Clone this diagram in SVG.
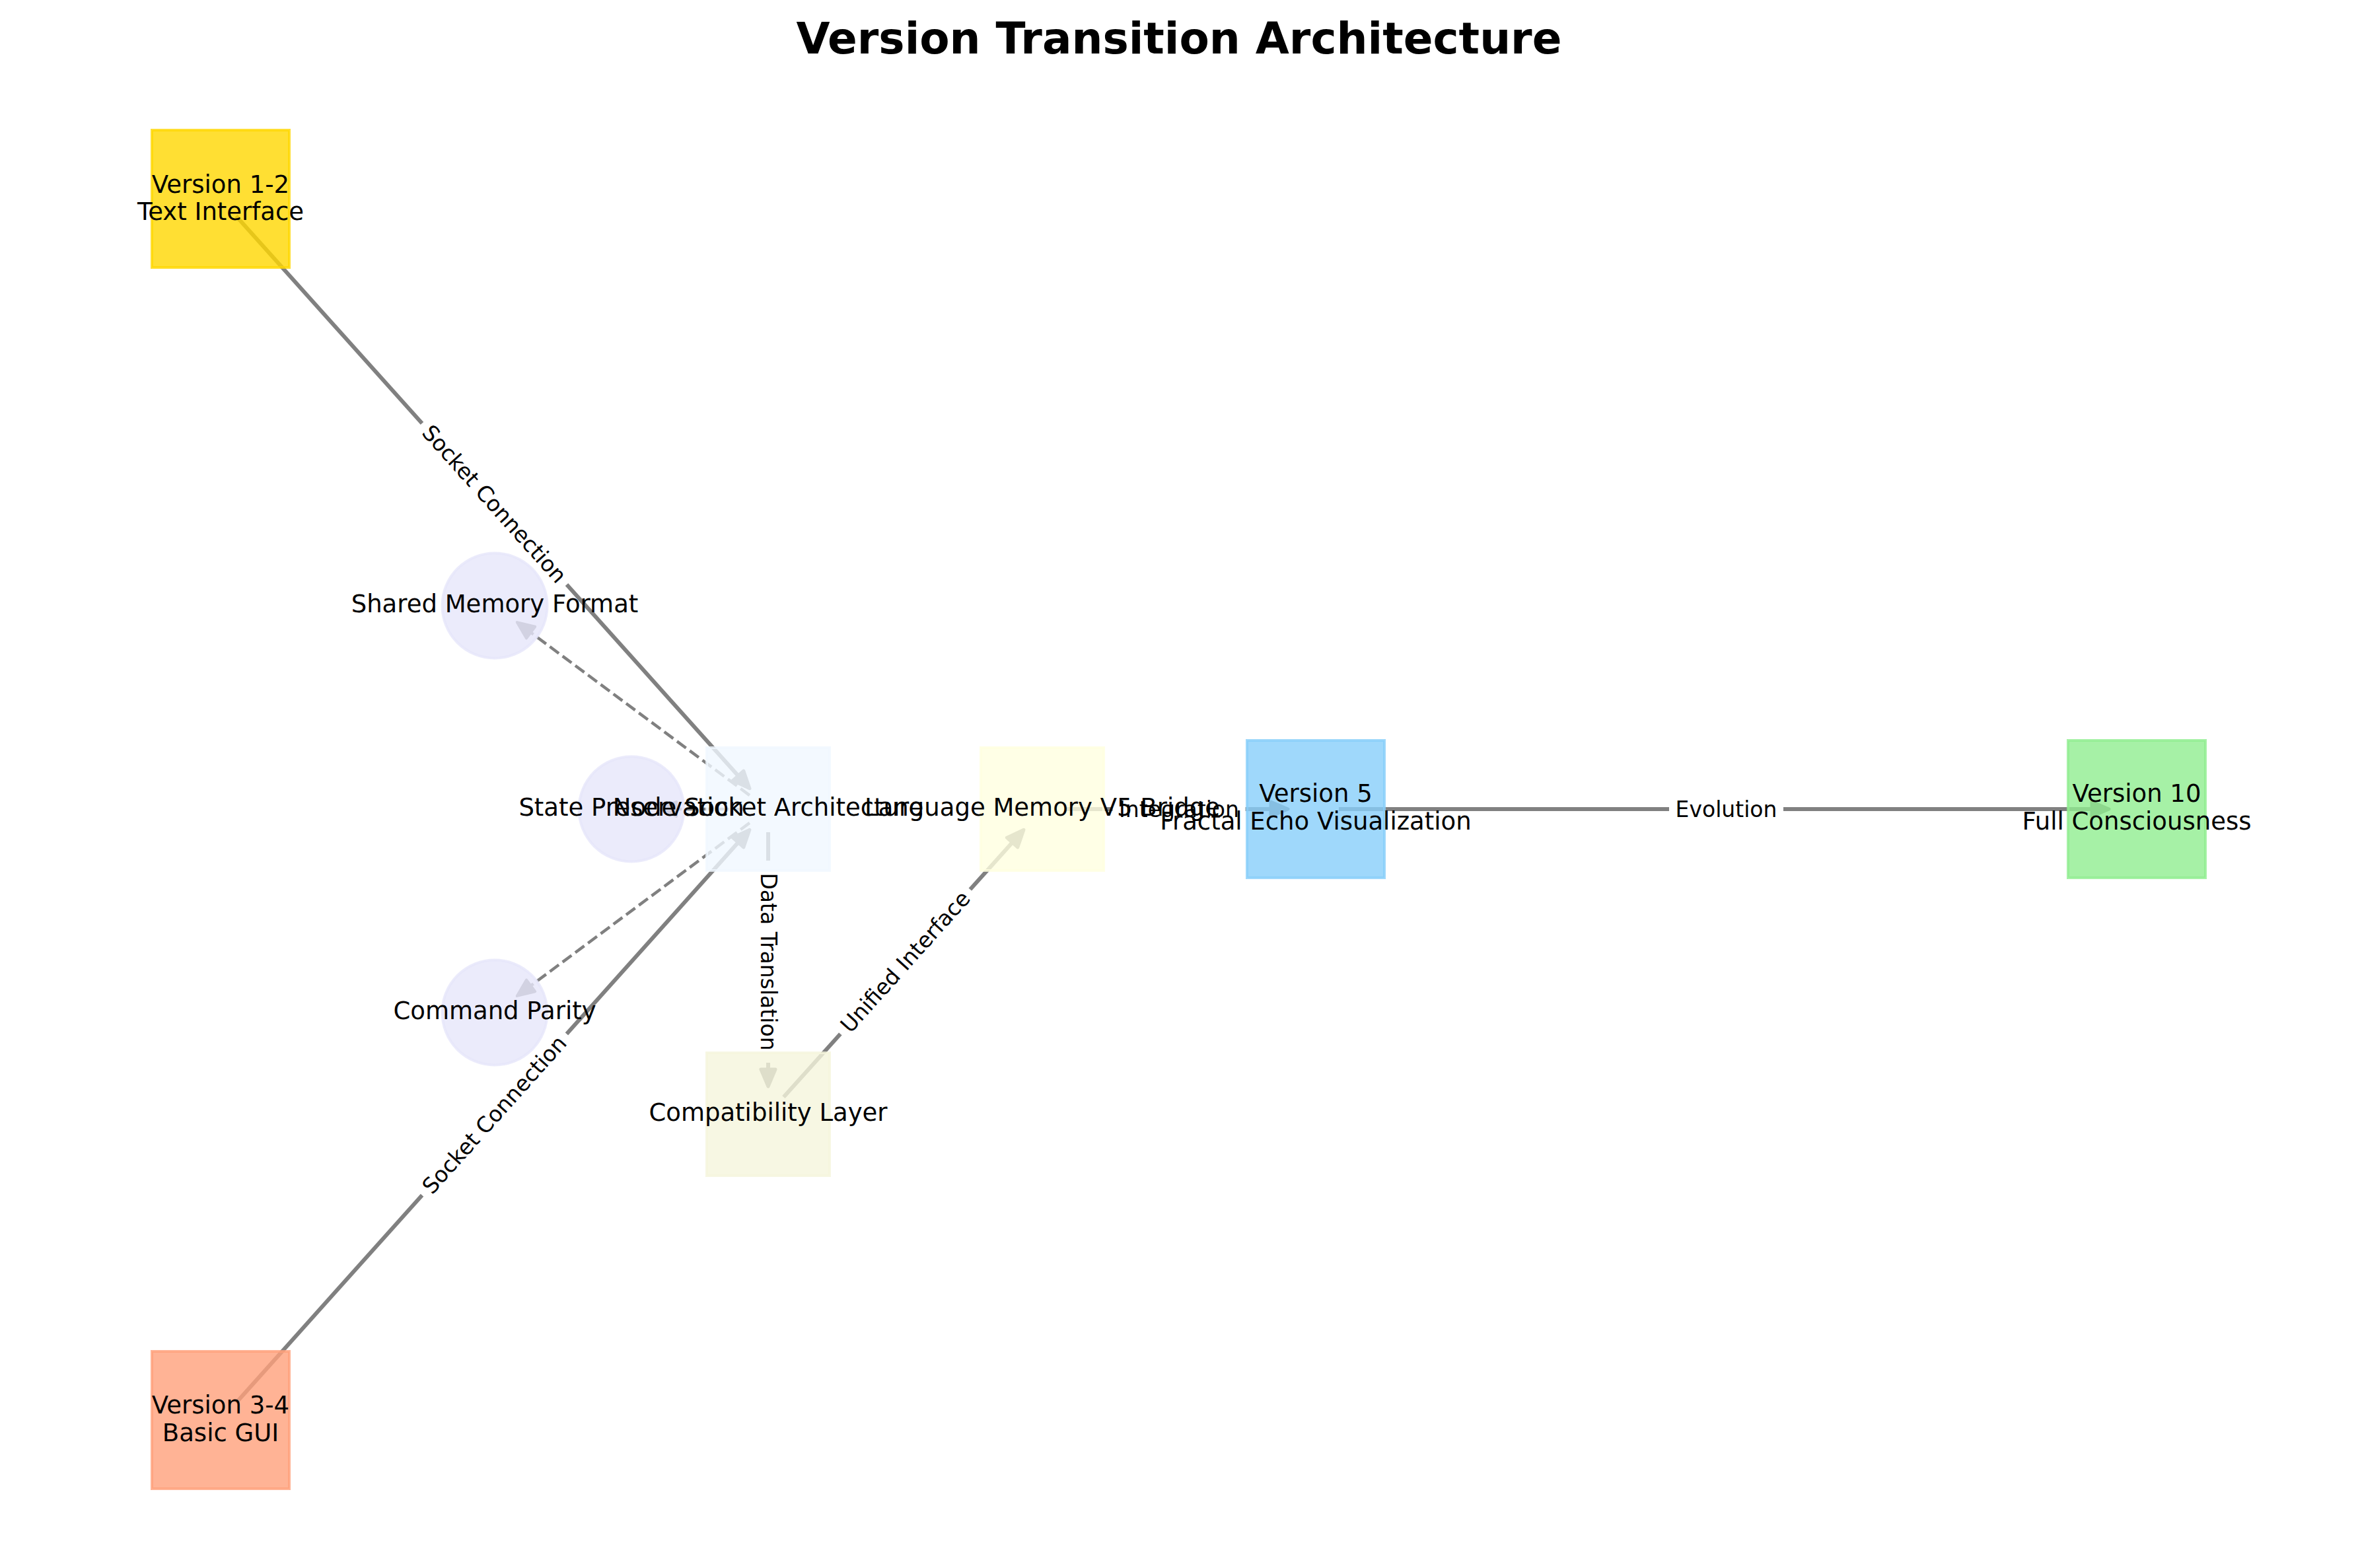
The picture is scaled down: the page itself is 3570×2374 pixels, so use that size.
<svg xmlns="http://www.w3.org/2000/svg" width="3570" height="2374" viewBox="0 0 3570 2374">
<style>
  text { font-family: "DejaVu Sans", "Liberation Sans", sans-serif; fill: #000; }
  .title { font-size: 66px; font-weight: bold; text-anchor: middle; }
  .nl { font-size: 37px; text-anchor: middle; }
  .el { font-size: 33px; text-anchor: middle; }
  .solid { stroke: #808080; stroke-width: 6; fill: none; marker-end: url(#ah); }
  .dash { stroke: #808080; stroke-width: 4.5; fill: none; stroke-dasharray: 17 7; marker-end: url(#ahd); }
  .lblbox { fill: #ffffff; stroke: #ffffff; }
  .rect { fill-opacity: 0.8; stroke-opacity: 0.8; stroke-width: 4; }
  .circ { fill: #E6E6FA; stroke: #E6E6FA; fill-opacity: 0.8; stroke-opacity: 0.8; stroke-width: 4; }
</style>
<defs>
  <marker id="ah" markerUnits="userSpaceOnUse" orient="auto" refX="0" refY="0" markerWidth="40" markerHeight="40" overflow="visible">
    <path d="M0,-11 L26,0 L0,11 Z" fill="#808080" stroke="#808080" stroke-width="5" stroke-linejoin="round"/>
  </marker>
  <marker id="ahd" markerUnits="userSpaceOnUse" orient="auto" refX="0" refY="0" markerWidth="40" markerHeight="40" overflow="visible">
    <path d="M0,-11 L26,0 L0,11 Z" fill="#808080" stroke="#808080" stroke-width="4" stroke-linejoin="round"/>
  </marker>
</defs>
<rect width="3570" height="2374" fill="#ffffff"/>
<text class="title" x="1785" y="81">Version Transition Architecture</text>

<g id="connectors">
  <line class="solid" x1="357.4" y1="327.1" x2="1117.6" y2="1174.4"/>
  <line class="solid" x1="357.4" y1="2123.9" x2="1117.6" y2="1275.6"/>
  <line class="dash" x1="1134.9" y1="1204.1" x2="803.6" y2="957.6"/>
  <line class="dash" x1="1128" y1="1225" x2="1024" y2="1225"/>
  <line class="dash" x1="1134.9" y1="1245.9" x2="803.6" y2="1492.4"/>
  <line class="solid" x1="1163" y1="1260" x2="1163" y2="1619"/>
  <line class="solid" x1="1186.4" y1="1661" x2="1532.6" y2="1275.6"/>
  <line class="solid" x1="1613" y1="1225" x2="1924" y2="1225"/>
  <line class="solid" x1="2027" y1="1225" x2="3167" y2="1225"/>

  <g id="edge-labels">
    <g transform="translate(748.5,763) rotate(48.1)">
      <rect class="lblbox" x="-163.5" y="-28.5" width="327" height="57" rx="9"/>
      <text class="el" x="0" y="11.5">Socket Connection</text>
    </g>
    <g transform="translate(748.5,1687.5) rotate(-48.1)">
      <rect class="lblbox" x="-163.5" y="-28.5" width="327" height="57" rx="9"/>
      <text class="el" x="0" y="11.5">Socket Connection</text>
    </g>
    <g transform="translate(1163,1456) rotate(90)">
      <rect class="lblbox" x="-152.5" y="-28.5" width="305" height="57" rx="9"/>
      <text class="el" x="0" y="11.5">Data Translation</text>
    </g>
    <g transform="translate(1370.5,1456) rotate(-48.1)">
      <rect class="lblbox" x="-146.5" y="-28.5" width="293" height="57" rx="9"/>
      <text class="el" x="0" y="11.5">Unified Interface</text>
    </g>
    <g transform="translate(1785,1225)">
      <rect class="lblbox" x="-100" y="-28.5" width="200" height="57" rx="9"/>
      <text class="el" x="0" y="11.5">Integration</text>
    </g>
    <g transform="translate(2613.5,1225)">
      <rect class="lblbox" x="-86" y="-28.5" width="172" height="57" rx="9"/>
      <text class="el" x="0" y="11.5">Evolution</text>
    </g>
  </g>
</g>

<g id="node-v12"><rect class="rect" x="230" y="197" width="208" height="208" fill="#FFD700" stroke="#FFD700"/></g>
<g id="node-v34"><rect class="rect" x="230" y="2046" width="208" height="208" fill="#FFA07A" stroke="#FFA07A"/></g>
<g id="node-smf"><circle class="circ" cx="749" cy="917" r="79.5"/></g>
<g id="node-sp"><circle class="circ" cx="956" cy="1225" r="79.5"/></g>
<g id="node-cp"><circle class="circ" cx="749" cy="1533" r="79.5"/></g>
<g id="node-nsa"><rect class="rect" x="1070" y="1132" width="186" height="186" fill="#F0F8FF" stroke="#F0F8FF"/></g>
<g id="node-cl"><rect class="rect" x="1070" y="1594" width="186" height="186" fill="#F5F5DC" stroke="#F5F5DC"/></g>
<g id="node-lmb"><rect class="rect" x="1485" y="1132" width="186" height="186" fill="#FFFFE0" stroke="#FFFFE0"/></g>
<g id="node-v5"><rect class="rect" x="1888" y="1121" width="208" height="208" fill="#87CEFA" stroke="#87CEFA"/></g>
<g id="node-v10"><rect class="rect" x="3131" y="1121" width="208" height="208" fill="#90EE90" stroke="#90EE90"/></g>

<g id="node-labels">
  <text id="label-v12" class="nl" x="334" y="292">Version 1-2</text>
  <text class="nl" x="334" y="333">Text Interface</text>
  <text id="label-v34" class="nl" x="334" y="2140">Version 3-4</text>
  <text class="nl" x="334" y="2182">Basic GUI</text>
  <text id="label-smf" class="nl" x="749" y="927">Shared Memory Format</text>
  <text id="label-sp" class="nl" x="956" y="1235">State Preservation</text>
  <text id="label-cp" class="nl" x="749" y="1543">Command Parity</text>
  <text id="label-nsa" class="nl" x="1163" y="1235">Node Socket Architecture</text>
  <text id="label-cl" class="nl" x="1163" y="1697">Compatibility Layer</text>
  <text id="label-lmb" class="nl" x="1578" y="1235">Language Memory V5 Bridge</text>
  <text id="label-v5" class="nl" x="1992" y="1214">Version 5</text>
  <text class="nl" x="1992" y="1256">Fractal Echo Visualization</text>
  <text id="label-v10" class="nl" x="3235" y="1214">Version 10</text>
  <text class="nl" x="3235" y="1256">Full Consciousness</text>
</g>
</svg>
